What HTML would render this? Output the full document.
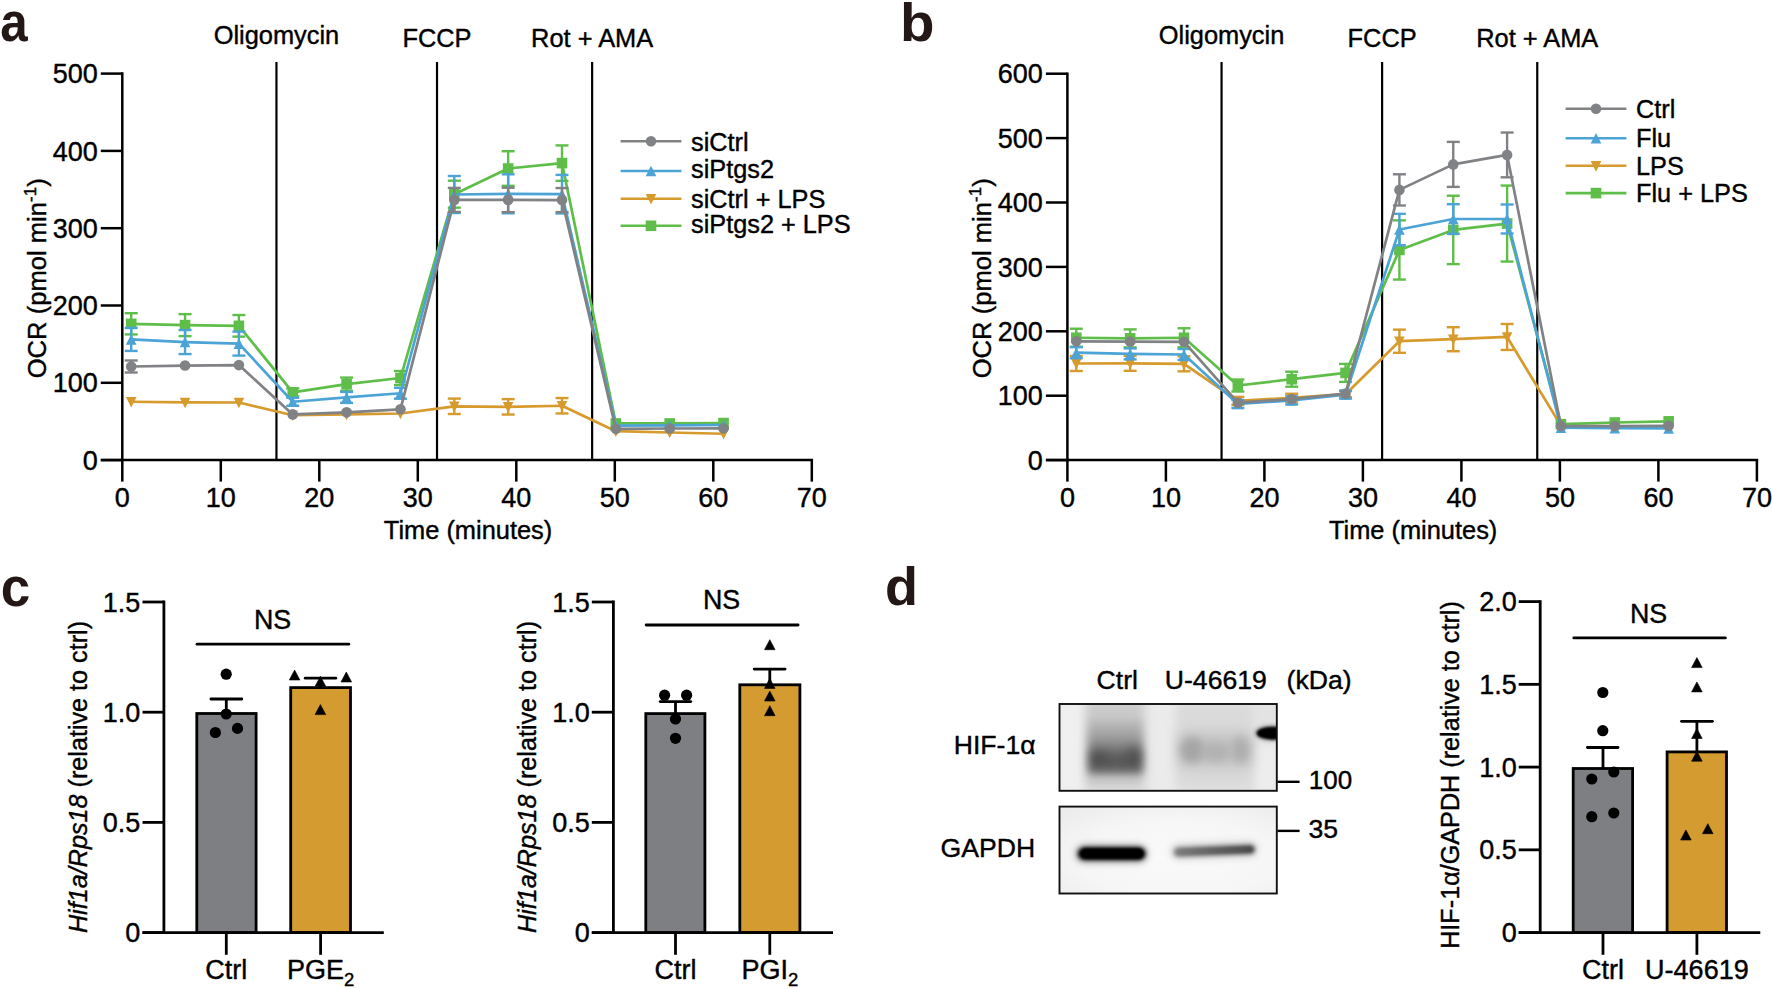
<!DOCTYPE html>
<html lang="en">
<head>
<meta charset="utf-8">
<title>Figure</title>
<style>html,body{margin:0;padding:0;background:#fff;overflow:hidden;}svg{display:block;}text{font-family:"Liberation Sans",Arial,Helvetica,sans-serif;}</style>
</head>
<body>
<svg width="1772" height="989" viewBox="0 0 1772 989" font-family="'Liberation Sans', Arial, Helvetica, sans-serif" fill="#000">
<style>text{stroke:#000;stroke-width:0.4px;stroke-linejoin:round}text.pl{stroke:none}</style>
<defs><filter id="b1" x="-50%" y="-150%" width="200%" height="400%"><feGaussianBlur stdDeviation="1.2"/></filter><filter id="b2" x="-50%" y="-150%" width="200%" height="400%"><feGaussianBlur stdDeviation="2.2"/></filter><filter id="b4" x="-60%" y="-200%" width="220%" height="500%"><feGaussianBlur stdDeviation="4.5"/></filter><filter id="b7" x="-60%" y="-200%" width="220%" height="500%"><feGaussianBlur stdDeviation="7"/></filter><clipPath id="c1"><rect x="1059.5" y="704" width="217.3" height="86.8"/></clipPath><clipPath id="c2"><rect x="1059.5" y="806.6" width="217.3" height="86.9"/></clipPath><linearGradient id="g1" x1="0" y1="0" x2="0" y2="1"><stop offset="0" stop-color="#9a9a9a" stop-opacity="0.25"/><stop offset="0.35" stop-color="#848484" stop-opacity="0.7"/><stop offset="0.7" stop-color="#565656" stop-opacity="1"/><stop offset="1" stop-color="#606060" stop-opacity="0.95"/></linearGradient><radialGradient id="g3" cx="0.55" cy="0.6" r="0.75"><stop offset="0" stop-color="#fafafa"/><stop offset="0.6" stop-color="#f6f6f6"/><stop offset="1" stop-color="#ececec"/></radialGradient><linearGradient id="g2" x1="0" y1="0" x2="1" y2="0"><stop offset="0" stop-color="#7a7a7a"/><stop offset="0.5" stop-color="#606060"/><stop offset="1" stop-color="#4a4a4a"/></linearGradient></defs>
<rect width="1772" height="989" fill="#fff"/>
<text transform="translate(0.14 40.5) scale(0.932 1.04)" class="pl" font-size="53" font-weight="bold" fill="#231815">a</text>
<text transform="translate(900.1 41) scale(1.065 1.0)" class="pl" font-size="53" font-weight="bold" fill="#231815">b</text>
<text transform="translate(0.7 605.7) scale(1.0 1.04)" class="pl" font-size="53" font-weight="bold" fill="#231815">c</text>
<text transform="translate(884.9 604.9) scale(1.02 1.0)" class="pl" font-size="53" font-weight="bold" fill="#231815">d</text>
<g id="panel-a">
<line x1="276.45" y1="62" x2="276.45" y2="460.1" stroke="#000" stroke-width="2.2" />
<text x="276.45" y="44" text-anchor="middle" font-size="25.4" >Oligomycin</text>
<line x1="437.01" y1="62" x2="437.01" y2="460.1" stroke="#000" stroke-width="2.2" />
<text x="437.01" y="47" text-anchor="middle" font-size="25.4" >FCCP</text>
<line x1="592.14" y1="62" x2="592.14" y2="460.1" stroke="#000" stroke-width="2.2" />
<text x="592.14" y="47" text-anchor="middle" font-size="25.4" >Rot + AMA</text>
<line x1="454.3" y1="398.6" x2="454.3" y2="414" stroke="#d69a2d" stroke-width="2.4" />
<line x1="447.8" y1="398.6" x2="460.8" y2="398.6" stroke="#d69a2d" stroke-width="2.4" />
<line x1="447.8" y1="414" x2="460.8" y2="414" stroke="#d69a2d" stroke-width="2.4" />
<line x1="508.15" y1="399.14" x2="508.15" y2="414.54" stroke="#d69a2d" stroke-width="2.4" />
<line x1="501.65" y1="399.14" x2="514.65" y2="399.14" stroke="#d69a2d" stroke-width="2.4" />
<line x1="501.65" y1="414.54" x2="514.65" y2="414.54" stroke="#d69a2d" stroke-width="2.4" />
<line x1="562" y1="398.06" x2="562" y2="413.46" stroke="#d69a2d" stroke-width="2.4" />
<line x1="555.5" y1="398.06" x2="568.5" y2="398.06" stroke="#d69a2d" stroke-width="2.4" />
<line x1="555.5" y1="413.46" x2="568.5" y2="413.46" stroke="#d69a2d" stroke-width="2.4" />
<polyline points="131.2,401.74 185.05,402.43 238.9,402.51 292.75,415.19 346.6,414.42 400.45,413.49 454.3,406.3 508.15,406.84 562,405.76 615.85,431.19 669.7,432.5 723.55,433.74" fill="none" stroke="#d69a2d" stroke-width="2.7" stroke-linejoin="round"/>
<polygon points="125.9,396.97 136.5,396.97 131.2,407.57" fill="#d69a2d"/>
<polygon points="179.75,397.66 190.35,397.66 185.05,408.26" fill="#d69a2d"/>
<polygon points="233.6,397.74 244.2,397.74 238.9,408.34" fill="#d69a2d"/>
<polygon points="287.45,410.42 298.05,410.42 292.75,421.02" fill="#d69a2d"/>
<polygon points="341.3,409.65 351.9,409.65 346.6,420.25" fill="#d69a2d"/>
<polygon points="395.15,408.72 405.75,408.72 400.45,419.32" fill="#d69a2d"/>
<polygon points="449,401.53 459.6,401.53 454.3,412.13" fill="#d69a2d"/>
<polygon points="502.85,402.07 513.45,402.07 508.15,412.67" fill="#d69a2d"/>
<polygon points="556.7,400.99 567.3,400.99 562,411.59" fill="#d69a2d"/>
<polygon points="610.55,426.42 621.15,426.42 615.85,437.02" fill="#d69a2d"/>
<polygon points="664.4,427.73 675,427.73 669.7,438.33" fill="#d69a2d"/>
<polygon points="718.25,428.97 728.85,428.97 723.55,439.57" fill="#d69a2d"/>
<line x1="131.2" y1="313.22" x2="131.2" y2="334.42" stroke="#5fbe49" stroke-width="2.4" />
<line x1="124.7" y1="313.22" x2="137.7" y2="313.22" stroke="#5fbe49" stroke-width="2.4" />
<line x1="124.7" y1="334.42" x2="137.7" y2="334.42" stroke="#5fbe49" stroke-width="2.4" />
<line x1="185.05" y1="314.13" x2="185.05" y2="336.13" stroke="#5fbe49" stroke-width="2.4" />
<line x1="178.55" y1="314.13" x2="191.55" y2="314.13" stroke="#5fbe49" stroke-width="2.4" />
<line x1="178.55" y1="336.13" x2="191.55" y2="336.13" stroke="#5fbe49" stroke-width="2.4" />
<line x1="238.9" y1="315.03" x2="238.9" y2="336.63" stroke="#5fbe49" stroke-width="2.4" />
<line x1="232.4" y1="315.03" x2="245.4" y2="315.03" stroke="#5fbe49" stroke-width="2.4" />
<line x1="232.4" y1="336.63" x2="245.4" y2="336.63" stroke="#5fbe49" stroke-width="2.4" />
<line x1="292.75" y1="388.39" x2="292.75" y2="396.39" stroke="#5fbe49" stroke-width="2.4" />
<line x1="286.25" y1="388.39" x2="299.25" y2="388.39" stroke="#5fbe49" stroke-width="2.4" />
<line x1="286.25" y1="396.39" x2="299.25" y2="396.39" stroke="#5fbe49" stroke-width="2.4" />
<line x1="346.6" y1="377.59" x2="346.6" y2="390.79" stroke="#5fbe49" stroke-width="2.4" />
<line x1="340.1" y1="377.59" x2="353.1" y2="377.59" stroke="#5fbe49" stroke-width="2.4" />
<line x1="340.1" y1="390.79" x2="353.1" y2="390.79" stroke="#5fbe49" stroke-width="2.4" />
<line x1="400.45" y1="371.01" x2="400.45" y2="385.01" stroke="#5fbe49" stroke-width="2.4" />
<line x1="393.95" y1="371.01" x2="406.95" y2="371.01" stroke="#5fbe49" stroke-width="2.4" />
<line x1="393.95" y1="385.01" x2="406.95" y2="385.01" stroke="#5fbe49" stroke-width="2.4" />
<line x1="454.3" y1="180.69" x2="454.3" y2="207.69" stroke="#5fbe49" stroke-width="2.4" />
<line x1="447.8" y1="180.69" x2="460.8" y2="180.69" stroke="#5fbe49" stroke-width="2.4" />
<line x1="447.8" y1="207.69" x2="460.8" y2="207.69" stroke="#5fbe49" stroke-width="2.4" />
<line x1="508.15" y1="151.22" x2="508.15" y2="185.82" stroke="#5fbe49" stroke-width="2.4" />
<line x1="501.65" y1="151.22" x2="514.65" y2="151.22" stroke="#5fbe49" stroke-width="2.4" />
<line x1="501.65" y1="185.82" x2="514.65" y2="185.82" stroke="#5fbe49" stroke-width="2.4" />
<line x1="562" y1="145.41" x2="562" y2="180.81" stroke="#5fbe49" stroke-width="2.4" />
<line x1="555.5" y1="145.41" x2="568.5" y2="145.41" stroke="#5fbe49" stroke-width="2.4" />
<line x1="555.5" y1="180.81" x2="568.5" y2="180.81" stroke="#5fbe49" stroke-width="2.4" />
<polyline points="131.2,323.82 185.05,325.13 238.9,325.83 292.75,392.39 346.6,384.19 400.45,378.01 454.3,194.19 508.15,168.52 562,163.11 615.85,423.46 669.7,423.46 723.55,423.07" fill="none" stroke="#5fbe49" stroke-width="2.7" stroke-linejoin="round"/>
<rect x="125.9" y="318.52" width="10.6" height="10.6" fill="#5fbe49"/>
<rect x="179.75" y="319.83" width="10.6" height="10.6" fill="#5fbe49"/>
<rect x="233.6" y="320.53" width="10.6" height="10.6" fill="#5fbe49"/>
<rect x="287.45" y="387.09" width="10.6" height="10.6" fill="#5fbe49"/>
<rect x="341.3" y="378.89" width="10.6" height="10.6" fill="#5fbe49"/>
<rect x="395.15" y="372.71" width="10.6" height="10.6" fill="#5fbe49"/>
<rect x="449" y="188.89" width="10.6" height="10.6" fill="#5fbe49"/>
<rect x="502.85" y="163.22" width="10.6" height="10.6" fill="#5fbe49"/>
<rect x="556.7" y="157.81" width="10.6" height="10.6" fill="#5fbe49"/>
<rect x="610.55" y="418.16" width="10.6" height="10.6" fill="#5fbe49"/>
<rect x="664.4" y="418.16" width="10.6" height="10.6" fill="#5fbe49"/>
<rect x="718.25" y="417.77" width="10.6" height="10.6" fill="#5fbe49"/>
<line x1="131.2" y1="327.93" x2="131.2" y2="350.93" stroke="#4ba3d6" stroke-width="2.4" />
<line x1="124.7" y1="327.93" x2="137.7" y2="327.93" stroke="#4ba3d6" stroke-width="2.4" />
<line x1="124.7" y1="350.93" x2="137.7" y2="350.93" stroke="#4ba3d6" stroke-width="2.4" />
<line x1="185.05" y1="330.06" x2="185.05" y2="354.06" stroke="#4ba3d6" stroke-width="2.4" />
<line x1="178.55" y1="330.06" x2="191.55" y2="330.06" stroke="#4ba3d6" stroke-width="2.4" />
<line x1="178.55" y1="354.06" x2="191.55" y2="354.06" stroke="#4ba3d6" stroke-width="2.4" />
<line x1="238.9" y1="331.61" x2="238.9" y2="355.61" stroke="#4ba3d6" stroke-width="2.4" />
<line x1="232.4" y1="331.61" x2="245.4" y2="331.61" stroke="#4ba3d6" stroke-width="2.4" />
<line x1="232.4" y1="355.61" x2="245.4" y2="355.61" stroke="#4ba3d6" stroke-width="2.4" />
<line x1="292.75" y1="397.74" x2="292.75" y2="405.74" stroke="#4ba3d6" stroke-width="2.4" />
<line x1="286.25" y1="397.74" x2="299.25" y2="397.74" stroke="#4ba3d6" stroke-width="2.4" />
<line x1="286.25" y1="405.74" x2="299.25" y2="405.74" stroke="#4ba3d6" stroke-width="2.4" />
<line x1="346.6" y1="391.91" x2="346.6" y2="402.91" stroke="#4ba3d6" stroke-width="2.4" />
<line x1="340.1" y1="391.91" x2="353.1" y2="391.91" stroke="#4ba3d6" stroke-width="2.4" />
<line x1="340.1" y1="402.91" x2="353.1" y2="402.91" stroke="#4ba3d6" stroke-width="2.4" />
<line x1="400.45" y1="387.74" x2="400.45" y2="398.74" stroke="#4ba3d6" stroke-width="2.4" />
<line x1="393.95" y1="387.74" x2="406.95" y2="387.74" stroke="#4ba3d6" stroke-width="2.4" />
<line x1="393.95" y1="398.74" x2="406.95" y2="398.74" stroke="#4ba3d6" stroke-width="2.4" />
<line x1="454.3" y1="176" x2="454.3" y2="213" stroke="#4ba3d6" stroke-width="2.4" />
<line x1="447.8" y1="176" x2="460.8" y2="176" stroke="#4ba3d6" stroke-width="2.4" />
<line x1="447.8" y1="213" x2="460.8" y2="213" stroke="#4ba3d6" stroke-width="2.4" />
<line x1="508.15" y1="174.3" x2="508.15" y2="213.3" stroke="#4ba3d6" stroke-width="2.4" />
<line x1="501.65" y1="174.3" x2="514.65" y2="174.3" stroke="#4ba3d6" stroke-width="2.4" />
<line x1="501.65" y1="213.3" x2="514.65" y2="213.3" stroke="#4ba3d6" stroke-width="2.4" />
<line x1="562" y1="174.89" x2="562" y2="213.49" stroke="#4ba3d6" stroke-width="2.4" />
<line x1="555.5" y1="174.89" x2="568.5" y2="174.89" stroke="#4ba3d6" stroke-width="2.4" />
<line x1="555.5" y1="213.49" x2="568.5" y2="213.49" stroke="#4ba3d6" stroke-width="2.4" />
<polyline points="131.2,339.43 185.05,342.06 238.9,343.61 292.75,401.74 346.6,397.41 400.45,393.24 454.3,194.5 508.15,193.8 562,194.19 615.85,425.62 669.7,425.31 723.55,425.01" fill="none" stroke="#4ba3d6" stroke-width="2.7" stroke-linejoin="round"/>
<polygon points="125.9,344.73 136.5,344.73 131.2,334.13" fill="#4ba3d6"/>
<polygon points="179.75,347.36 190.35,347.36 185.05,336.76" fill="#4ba3d6"/>
<polygon points="233.6,348.91 244.2,348.91 238.9,338.31" fill="#4ba3d6"/>
<polygon points="287.45,407.04 298.05,407.04 292.75,396.44" fill="#4ba3d6"/>
<polygon points="341.3,402.71 351.9,402.71 346.6,392.11" fill="#4ba3d6"/>
<polygon points="395.15,398.54 405.75,398.54 400.45,387.94" fill="#4ba3d6"/>
<polygon points="449,199.8 459.6,199.8 454.3,189.2" fill="#4ba3d6"/>
<polygon points="502.85,199.1 513.45,199.1 508.15,188.5" fill="#4ba3d6"/>
<polygon points="556.7,199.49 567.3,199.49 562,188.89" fill="#4ba3d6"/>
<polygon points="610.55,430.92 621.15,430.92 615.85,420.32" fill="#4ba3d6"/>
<polygon points="664.4,430.62 675,430.62 669.7,420.01" fill="#4ba3d6"/>
<polygon points="718.25,430.31 728.85,430.31 723.55,419.71" fill="#4ba3d6"/>
<line x1="131.2" y1="360.49" x2="131.2" y2="372.49" stroke="#808285" stroke-width="2.4" />
<line x1="124.7" y1="360.49" x2="137.7" y2="360.49" stroke="#808285" stroke-width="2.4" />
<line x1="124.7" y1="372.49" x2="137.7" y2="372.49" stroke="#808285" stroke-width="2.4" />
<line x1="454.3" y1="187.91" x2="454.3" y2="211.91" stroke="#808285" stroke-width="2.4" />
<line x1="447.8" y1="187.91" x2="460.8" y2="187.91" stroke="#808285" stroke-width="2.4" />
<line x1="447.8" y1="211.91" x2="460.8" y2="211.91" stroke="#808285" stroke-width="2.4" />
<line x1="508.15" y1="187.71" x2="508.15" y2="212.11" stroke="#808285" stroke-width="2.4" />
<line x1="501.65" y1="187.71" x2="514.65" y2="187.71" stroke="#808285" stroke-width="2.4" />
<line x1="501.65" y1="212.11" x2="514.65" y2="212.11" stroke="#808285" stroke-width="2.4" />
<line x1="562" y1="188.06" x2="562" y2="212.06" stroke="#808285" stroke-width="2.4" />
<line x1="555.5" y1="188.06" x2="568.5" y2="188.06" stroke="#808285" stroke-width="2.4" />
<line x1="555.5" y1="212.06" x2="568.5" y2="212.06" stroke="#808285" stroke-width="2.4" />
<polyline points="131.2,366.49 185.05,365.56 238.9,365.1 292.75,414.42 346.6,412.33 400.45,409.31 454.3,199.91 508.15,199.91 562,200.06 615.85,428.87 669.7,428.48 723.55,428.33" fill="none" stroke="#808285" stroke-width="2.7" stroke-linejoin="round"/>
<circle cx="131.2" cy="366.49" r="5.3" fill="#808285"/>
<circle cx="185.05" cy="365.56" r="5.3" fill="#808285"/>
<circle cx="238.9" cy="365.1" r="5.3" fill="#808285"/>
<circle cx="292.75" cy="414.42" r="5.3" fill="#808285"/>
<circle cx="346.6" cy="412.33" r="5.3" fill="#808285"/>
<circle cx="400.45" cy="409.31" r="5.3" fill="#808285"/>
<circle cx="454.3" cy="199.91" r="5.3" fill="#808285"/>
<circle cx="508.15" cy="199.91" r="5.3" fill="#808285"/>
<circle cx="562" cy="200.06" r="5.3" fill="#808285"/>
<circle cx="615.85" cy="428.87" r="5.3" fill="#808285"/>
<circle cx="669.7" cy="428.48" r="5.3" fill="#808285"/>
<circle cx="723.55" cy="428.33" r="5.3" fill="#808285"/>
<line x1="122.3" y1="72.35" x2="122.3" y2="461.35" stroke="#000" stroke-width="2.5" />
<line x1="100.8" y1="460.1" x2="813.05" y2="460.1" stroke="#000" stroke-width="2.5" />
<line x1="100.8" y1="460.1" x2="122.3" y2="460.1" stroke="#000" stroke-width="2.5" />
<text x="97.8" y="469.7" text-anchor="end" font-size="27" >0</text>
<line x1="100.8" y1="382.8" x2="122.3" y2="382.8" stroke="#000" stroke-width="2.5" />
<text x="97.8" y="392.4" text-anchor="end" font-size="27" >100</text>
<line x1="100.8" y1="305.5" x2="122.3" y2="305.5" stroke="#000" stroke-width="2.5" />
<text x="97.8" y="315.1" text-anchor="end" font-size="27" >200</text>
<line x1="100.8" y1="228.2" x2="122.3" y2="228.2" stroke="#000" stroke-width="2.5" />
<text x="97.8" y="237.8" text-anchor="end" font-size="27" >300</text>
<line x1="100.8" y1="150.9" x2="122.3" y2="150.9" stroke="#000" stroke-width="2.5" />
<text x="97.8" y="160.5" text-anchor="end" font-size="27" >400</text>
<line x1="100.8" y1="73.6" x2="122.3" y2="73.6" stroke="#000" stroke-width="2.5" />
<text x="97.8" y="83.2" text-anchor="end" font-size="27" >500</text>
<line x1="122.3" y1="460.1" x2="122.3" y2="481.6" stroke="#000" stroke-width="2.5" />
<text x="122.3" y="506.6" text-anchor="middle" font-size="27" >0</text>
<line x1="220.8" y1="460.1" x2="220.8" y2="481.6" stroke="#000" stroke-width="2.5" />
<text x="220.8" y="506.6" text-anchor="middle" font-size="27" >10</text>
<line x1="319.3" y1="460.1" x2="319.3" y2="481.6" stroke="#000" stroke-width="2.5" />
<text x="319.3" y="506.6" text-anchor="middle" font-size="27" >20</text>
<line x1="417.8" y1="460.1" x2="417.8" y2="481.6" stroke="#000" stroke-width="2.5" />
<text x="417.8" y="506.6" text-anchor="middle" font-size="27" >30</text>
<line x1="516.3" y1="460.1" x2="516.3" y2="481.6" stroke="#000" stroke-width="2.5" />
<text x="516.3" y="506.6" text-anchor="middle" font-size="27" >40</text>
<line x1="614.8" y1="460.1" x2="614.8" y2="481.6" stroke="#000" stroke-width="2.5" />
<text x="614.8" y="506.6" text-anchor="middle" font-size="27" >50</text>
<line x1="713.3" y1="460.1" x2="713.3" y2="481.6" stroke="#000" stroke-width="2.5" />
<text x="713.3" y="506.6" text-anchor="middle" font-size="27" >60</text>
<line x1="811.8" y1="460.1" x2="811.8" y2="481.6" stroke="#000" stroke-width="2.5" />
<text x="811.8" y="506.6" text-anchor="middle" font-size="27" >70</text>
<text x="468.05" y="539.3" text-anchor="middle" font-size="25.4" >Time (minutes)</text>
<text transform="translate(46.3 278.3) rotate(-90)" text-anchor="middle" font-size="25.6" >OCR (pmol min<tspan font-size="17" dy="-10">-1</tspan><tspan dy="10">)</tspan></text>
<line x1="620.6" y1="141.2" x2="681.4" y2="141.2" stroke="#808285" stroke-width="2.6" />
<circle cx="651" cy="141.2" r="5.3" fill="#808285"/>
<text x="691" y="150.8" text-anchor="start" font-size="25.3" >siCtrl</text>
<line x1="620.6" y1="171" x2="681.4" y2="171" stroke="#4ba3d6" stroke-width="2.6" />
<polygon points="645.7,176.3 656.3,176.3 651,165.7" fill="#4ba3d6"/>
<text x="691" y="178" text-anchor="start" font-size="25.3" >siPtgs2</text>
<line x1="620.6" y1="198.7" x2="681.4" y2="198.7" stroke="#d69a2d" stroke-width="2.6" />
<polygon points="645.7,193.93 656.3,193.93 651,204.53" fill="#d69a2d"/>
<text x="691" y="208" text-anchor="start" font-size="25.3" >siCtrl + LPS</text>
<line x1="620.6" y1="225.8" x2="681.4" y2="225.8" stroke="#5fbe49" stroke-width="2.6" />
<rect x="645.7" y="220.5" width="10.6" height="10.6" fill="#5fbe49"/>
<text x="691" y="232.7" text-anchor="start" font-size="25.3" >siPtgs2 + LPS</text>
</g>
<g id="panel-b">
<line x1="1221.55" y1="62" x2="1221.55" y2="460.1" stroke="#000" stroke-width="2.2" />
<text x="1221.55" y="44" text-anchor="middle" font-size="25.4" >Oligomycin</text>
<line x1="1382.11" y1="62" x2="1382.11" y2="460.1" stroke="#000" stroke-width="2.2" />
<text x="1382.11" y="47" text-anchor="middle" font-size="25.4" >FCCP</text>
<line x1="1537.25" y1="62" x2="1537.25" y2="460.1" stroke="#000" stroke-width="2.2" />
<text x="1537.25" y="47" text-anchor="middle" font-size="25.4" >Rot + AMA</text>
<line x1="1076.3" y1="356" x2="1076.3" y2="371" stroke="#d69a2d" stroke-width="2.4" />
<line x1="1069.8" y1="356" x2="1082.8" y2="356" stroke="#d69a2d" stroke-width="2.4" />
<line x1="1069.8" y1="371" x2="1082.8" y2="371" stroke="#d69a2d" stroke-width="2.4" />
<line x1="1130.15" y1="355.81" x2="1130.15" y2="370.81" stroke="#d69a2d" stroke-width="2.4" />
<line x1="1123.65" y1="355.81" x2="1136.65" y2="355.81" stroke="#d69a2d" stroke-width="2.4" />
<line x1="1123.65" y1="370.81" x2="1136.65" y2="370.81" stroke="#d69a2d" stroke-width="2.4" />
<line x1="1184" y1="356.32" x2="1184" y2="371.32" stroke="#d69a2d" stroke-width="2.4" />
<line x1="1177.5" y1="356.32" x2="1190.5" y2="356.32" stroke="#d69a2d" stroke-width="2.4" />
<line x1="1177.5" y1="371.32" x2="1190.5" y2="371.32" stroke="#d69a2d" stroke-width="2.4" />
<line x1="1237.85" y1="396.85" x2="1237.85" y2="404.85" stroke="#d69a2d" stroke-width="2.4" />
<line x1="1231.35" y1="396.85" x2="1244.35" y2="396.85" stroke="#d69a2d" stroke-width="2.4" />
<line x1="1231.35" y1="404.85" x2="1244.35" y2="404.85" stroke="#d69a2d" stroke-width="2.4" />
<line x1="1291.7" y1="393.76" x2="1291.7" y2="401.76" stroke="#d69a2d" stroke-width="2.4" />
<line x1="1285.2" y1="393.76" x2="1298.2" y2="393.76" stroke="#d69a2d" stroke-width="2.4" />
<line x1="1285.2" y1="401.76" x2="1298.2" y2="401.76" stroke="#d69a2d" stroke-width="2.4" />
<line x1="1345.55" y1="391.22" x2="1345.55" y2="397.22" stroke="#d69a2d" stroke-width="2.4" />
<line x1="1339.05" y1="391.22" x2="1352.05" y2="391.22" stroke="#d69a2d" stroke-width="2.4" />
<line x1="1339.05" y1="397.22" x2="1352.05" y2="397.22" stroke="#d69a2d" stroke-width="2.4" />
<line x1="1399.4" y1="329.62" x2="1399.4" y2="352.82" stroke="#d69a2d" stroke-width="2.4" />
<line x1="1392.9" y1="329.62" x2="1405.9" y2="329.62" stroke="#d69a2d" stroke-width="2.4" />
<line x1="1392.9" y1="352.82" x2="1405.9" y2="352.82" stroke="#d69a2d" stroke-width="2.4" />
<line x1="1453.25" y1="327.22" x2="1453.25" y2="351.22" stroke="#d69a2d" stroke-width="2.4" />
<line x1="1446.75" y1="327.22" x2="1459.75" y2="327.22" stroke="#d69a2d" stroke-width="2.4" />
<line x1="1446.75" y1="351.22" x2="1459.75" y2="351.22" stroke="#d69a2d" stroke-width="2.4" />
<line x1="1507.1" y1="323.97" x2="1507.1" y2="349.97" stroke="#d69a2d" stroke-width="2.4" />
<line x1="1500.6" y1="323.97" x2="1513.6" y2="323.97" stroke="#d69a2d" stroke-width="2.4" />
<line x1="1500.6" y1="349.97" x2="1513.6" y2="349.97" stroke="#d69a2d" stroke-width="2.4" />
<polyline points="1076.3,363.5 1130.15,363.31 1184,363.82 1237.85,400.85 1291.7,397.76 1345.55,394.22 1399.4,341.22 1453.25,339.22 1507.1,336.97 1560.95,425.58 1614.8,426.29 1668.65,426.29" fill="none" stroke="#d69a2d" stroke-width="2.7" stroke-linejoin="round"/>
<polygon points="1071,358.73 1081.6,358.73 1076.3,369.33" fill="#d69a2d"/>
<polygon points="1124.85,358.54 1135.45,358.54 1130.15,369.14" fill="#d69a2d"/>
<polygon points="1178.7,359.05 1189.3,359.05 1184,369.65" fill="#d69a2d"/>
<polygon points="1232.55,396.08 1243.15,396.08 1237.85,406.68" fill="#d69a2d"/>
<polygon points="1286.4,392.99 1297,392.99 1291.7,403.59" fill="#d69a2d"/>
<polygon points="1340.25,389.45 1350.85,389.45 1345.55,400.05" fill="#d69a2d"/>
<polygon points="1394.1,336.45 1404.7,336.45 1399.4,347.05" fill="#d69a2d"/>
<polygon points="1447.95,334.45 1458.55,334.45 1453.25,345.05" fill="#d69a2d"/>
<polygon points="1501.8,332.2 1512.4,332.2 1507.1,342.8" fill="#d69a2d"/>
<polygon points="1555.65,420.81 1566.25,420.81 1560.95,431.41" fill="#d69a2d"/>
<polygon points="1609.5,421.52 1620.1,421.52 1614.8,432.12" fill="#d69a2d"/>
<polygon points="1663.35,421.52 1673.95,421.52 1668.65,432.12" fill="#d69a2d"/>
<line x1="1076.3" y1="328.74" x2="1076.3" y2="346.74" stroke="#5fbe49" stroke-width="2.4" />
<line x1="1069.8" y1="328.74" x2="1082.8" y2="328.74" stroke="#5fbe49" stroke-width="2.4" />
<line x1="1069.8" y1="346.74" x2="1082.8" y2="346.74" stroke="#5fbe49" stroke-width="2.4" />
<line x1="1130.15" y1="329.38" x2="1130.15" y2="347.38" stroke="#5fbe49" stroke-width="2.4" />
<line x1="1123.65" y1="329.38" x2="1136.65" y2="329.38" stroke="#5fbe49" stroke-width="2.4" />
<line x1="1123.65" y1="347.38" x2="1136.65" y2="347.38" stroke="#5fbe49" stroke-width="2.4" />
<line x1="1184" y1="328.24" x2="1184" y2="347.24" stroke="#5fbe49" stroke-width="2.4" />
<line x1="1177.5" y1="328.24" x2="1190.5" y2="328.24" stroke="#5fbe49" stroke-width="2.4" />
<line x1="1177.5" y1="347.24" x2="1190.5" y2="347.24" stroke="#5fbe49" stroke-width="2.4" />
<line x1="1237.85" y1="379.52" x2="1237.85" y2="391.52" stroke="#5fbe49" stroke-width="2.4" />
<line x1="1231.35" y1="379.52" x2="1244.35" y2="379.52" stroke="#5fbe49" stroke-width="2.4" />
<line x1="1231.35" y1="391.52" x2="1244.35" y2="391.52" stroke="#5fbe49" stroke-width="2.4" />
<line x1="1291.7" y1="371.71" x2="1291.7" y2="386.71" stroke="#5fbe49" stroke-width="2.4" />
<line x1="1285.2" y1="371.71" x2="1298.2" y2="371.71" stroke="#5fbe49" stroke-width="2.4" />
<line x1="1285.2" y1="386.71" x2="1298.2" y2="386.71" stroke="#5fbe49" stroke-width="2.4" />
<line x1="1345.55" y1="363.9" x2="1345.55" y2="381.9" stroke="#5fbe49" stroke-width="2.4" />
<line x1="1339.05" y1="363.9" x2="1352.05" y2="363.9" stroke="#5fbe49" stroke-width="2.4" />
<line x1="1339.05" y1="381.9" x2="1352.05" y2="381.9" stroke="#5fbe49" stroke-width="2.4" />
<line x1="1399.4" y1="220.36" x2="1399.4" y2="279.56" stroke="#5fbe49" stroke-width="2.4" />
<line x1="1392.9" y1="220.36" x2="1405.9" y2="220.36" stroke="#5fbe49" stroke-width="2.4" />
<line x1="1392.9" y1="279.56" x2="1405.9" y2="279.56" stroke="#5fbe49" stroke-width="2.4" />
<line x1="1453.25" y1="195.73" x2="1453.25" y2="264.13" stroke="#5fbe49" stroke-width="2.4" />
<line x1="1446.75" y1="195.73" x2="1459.75" y2="195.73" stroke="#5fbe49" stroke-width="2.4" />
<line x1="1446.75" y1="264.13" x2="1459.75" y2="264.13" stroke="#5fbe49" stroke-width="2.4" />
<line x1="1507.1" y1="185.56" x2="1507.1" y2="261.56" stroke="#5fbe49" stroke-width="2.4" />
<line x1="1500.6" y1="185.56" x2="1513.6" y2="185.56" stroke="#5fbe49" stroke-width="2.4" />
<line x1="1500.6" y1="261.56" x2="1513.6" y2="261.56" stroke="#5fbe49" stroke-width="2.4" />
<polyline points="1076.3,337.74 1130.15,338.38 1184,337.74 1237.85,385.52 1291.7,379.21 1345.55,372.9 1399.4,249.96 1453.25,229.93 1507.1,223.56 1560.95,424.16 1614.8,422.49 1668.65,421.33" fill="none" stroke="#5fbe49" stroke-width="2.7" stroke-linejoin="round"/>
<rect x="1071" y="332.44" width="10.6" height="10.6" fill="#5fbe49"/>
<rect x="1124.85" y="333.08" width="10.6" height="10.6" fill="#5fbe49"/>
<rect x="1178.7" y="332.44" width="10.6" height="10.6" fill="#5fbe49"/>
<rect x="1232.55" y="380.22" width="10.6" height="10.6" fill="#5fbe49"/>
<rect x="1286.4" y="373.91" width="10.6" height="10.6" fill="#5fbe49"/>
<rect x="1340.25" y="367.6" width="10.6" height="10.6" fill="#5fbe49"/>
<rect x="1394.1" y="244.66" width="10.6" height="10.6" fill="#5fbe49"/>
<rect x="1447.95" y="224.63" width="10.6" height="10.6" fill="#5fbe49"/>
<rect x="1501.8" y="218.26" width="10.6" height="10.6" fill="#5fbe49"/>
<rect x="1555.65" y="418.86" width="10.6" height="10.6" fill="#5fbe49"/>
<rect x="1609.5" y="417.19" width="10.6" height="10.6" fill="#5fbe49"/>
<rect x="1663.35" y="416.03" width="10.6" height="10.6" fill="#5fbe49"/>
<line x1="1076.3" y1="347.18" x2="1076.3" y2="358.18" stroke="#4ba3d6" stroke-width="2.4" />
<line x1="1069.8" y1="347.18" x2="1082.8" y2="347.18" stroke="#4ba3d6" stroke-width="2.4" />
<line x1="1069.8" y1="358.18" x2="1082.8" y2="358.18" stroke="#4ba3d6" stroke-width="2.4" />
<line x1="1130.15" y1="348.4" x2="1130.15" y2="359.4" stroke="#4ba3d6" stroke-width="2.4" />
<line x1="1123.65" y1="348.4" x2="1136.65" y2="348.4" stroke="#4ba3d6" stroke-width="2.4" />
<line x1="1123.65" y1="359.4" x2="1136.65" y2="359.4" stroke="#4ba3d6" stroke-width="2.4" />
<line x1="1184" y1="348.98" x2="1184" y2="359.98" stroke="#4ba3d6" stroke-width="2.4" />
<line x1="1177.5" y1="348.98" x2="1190.5" y2="348.98" stroke="#4ba3d6" stroke-width="2.4" />
<line x1="1177.5" y1="359.98" x2="1190.5" y2="359.98" stroke="#4ba3d6" stroke-width="2.4" />
<line x1="1237.85" y1="399.94" x2="1237.85" y2="407.94" stroke="#4ba3d6" stroke-width="2.4" />
<line x1="1231.35" y1="399.94" x2="1244.35" y2="399.94" stroke="#4ba3d6" stroke-width="2.4" />
<line x1="1231.35" y1="407.94" x2="1244.35" y2="407.94" stroke="#4ba3d6" stroke-width="2.4" />
<line x1="1291.7" y1="396.34" x2="1291.7" y2="404.34" stroke="#4ba3d6" stroke-width="2.4" />
<line x1="1285.2" y1="396.34" x2="1298.2" y2="396.34" stroke="#4ba3d6" stroke-width="2.4" />
<line x1="1285.2" y1="404.34" x2="1298.2" y2="404.34" stroke="#4ba3d6" stroke-width="2.4" />
<line x1="1345.55" y1="390.54" x2="1345.55" y2="398.54" stroke="#4ba3d6" stroke-width="2.4" />
<line x1="1339.05" y1="390.54" x2="1352.05" y2="390.54" stroke="#4ba3d6" stroke-width="2.4" />
<line x1="1339.05" y1="398.54" x2="1352.05" y2="398.54" stroke="#4ba3d6" stroke-width="2.4" />
<line x1="1399.4" y1="213.85" x2="1399.4" y2="245.25" stroke="#4ba3d6" stroke-width="2.4" />
<line x1="1392.9" y1="213.85" x2="1405.9" y2="213.85" stroke="#4ba3d6" stroke-width="2.4" />
<line x1="1392.9" y1="245.25" x2="1405.9" y2="245.25" stroke="#4ba3d6" stroke-width="2.4" />
<line x1="1453.25" y1="204.19" x2="1453.25" y2="233.79" stroke="#4ba3d6" stroke-width="2.4" />
<line x1="1446.75" y1="204.19" x2="1459.75" y2="204.19" stroke="#4ba3d6" stroke-width="2.4" />
<line x1="1446.75" y1="233.79" x2="1459.75" y2="233.79" stroke="#4ba3d6" stroke-width="2.4" />
<line x1="1507.1" y1="204.49" x2="1507.1" y2="233.49" stroke="#4ba3d6" stroke-width="2.4" />
<line x1="1500.6" y1="204.49" x2="1513.6" y2="204.49" stroke="#4ba3d6" stroke-width="2.4" />
<line x1="1500.6" y1="233.49" x2="1513.6" y2="233.49" stroke="#4ba3d6" stroke-width="2.4" />
<polyline points="1076.3,352.68 1130.15,353.9 1184,354.48 1237.85,403.94 1291.7,400.34 1345.55,394.54 1399.4,229.55 1453.25,218.99 1507.1,218.99 1560.95,427.58 1614.8,428.22 1668.65,428.42" fill="none" stroke="#4ba3d6" stroke-width="2.7" stroke-linejoin="round"/>
<polygon points="1071,357.98 1081.6,357.98 1076.3,347.38" fill="#4ba3d6"/>
<polygon points="1124.85,359.2 1135.45,359.2 1130.15,348.6" fill="#4ba3d6"/>
<polygon points="1178.7,359.78 1189.3,359.78 1184,349.18" fill="#4ba3d6"/>
<polygon points="1232.55,409.24 1243.15,409.24 1237.85,398.64" fill="#4ba3d6"/>
<polygon points="1286.4,405.64 1297,405.64 1291.7,395.04" fill="#4ba3d6"/>
<polygon points="1340.25,399.84 1350.85,399.84 1345.55,389.24" fill="#4ba3d6"/>
<polygon points="1394.1,234.85 1404.7,234.85 1399.4,224.25" fill="#4ba3d6"/>
<polygon points="1447.95,224.29 1458.55,224.29 1453.25,213.69" fill="#4ba3d6"/>
<polygon points="1501.8,224.29 1512.4,224.29 1507.1,213.69" fill="#4ba3d6"/>
<polygon points="1555.65,432.88 1566.25,432.88 1560.95,422.28" fill="#4ba3d6"/>
<polygon points="1609.5,433.52 1620.1,433.52 1614.8,422.92" fill="#4ba3d6"/>
<polygon points="1663.35,433.72 1673.95,433.72 1668.65,423.12" fill="#4ba3d6"/>
<line x1="1399.4" y1="174.28" x2="1399.4" y2="205.48" stroke="#808285" stroke-width="2.4" />
<line x1="1392.9" y1="174.28" x2="1405.9" y2="174.28" stroke="#808285" stroke-width="2.4" />
<line x1="1392.9" y1="205.48" x2="1405.9" y2="205.48" stroke="#808285" stroke-width="2.4" />
<line x1="1453.25" y1="141.88" x2="1453.25" y2="186.88" stroke="#808285" stroke-width="2.4" />
<line x1="1446.75" y1="141.88" x2="1459.75" y2="141.88" stroke="#808285" stroke-width="2.4" />
<line x1="1446.75" y1="186.88" x2="1459.75" y2="186.88" stroke="#808285" stroke-width="2.4" />
<line x1="1507.1" y1="132.51" x2="1507.1" y2="177.31" stroke="#808285" stroke-width="2.4" />
<line x1="1500.6" y1="132.51" x2="1513.6" y2="132.51" stroke="#808285" stroke-width="2.4" />
<line x1="1500.6" y1="177.31" x2="1513.6" y2="177.31" stroke="#808285" stroke-width="2.4" />
<polyline points="1076.3,341.28 1130.15,341.6 1184,341.8 1237.85,402.72 1291.7,399.05 1345.55,393.64 1399.4,189.88 1453.25,164.38 1507.1,154.91 1560.95,426.1 1614.8,426.1 1668.65,425.84" fill="none" stroke="#808285" stroke-width="2.7" stroke-linejoin="round"/>
<circle cx="1076.3" cy="341.28" r="5.3" fill="#808285"/>
<circle cx="1130.15" cy="341.6" r="5.3" fill="#808285"/>
<circle cx="1184" cy="341.8" r="5.3" fill="#808285"/>
<circle cx="1237.85" cy="402.72" r="5.3" fill="#808285"/>
<circle cx="1291.7" cy="399.05" r="5.3" fill="#808285"/>
<circle cx="1345.55" cy="393.64" r="5.3" fill="#808285"/>
<circle cx="1399.4" cy="189.88" r="5.3" fill="#808285"/>
<circle cx="1453.25" cy="164.38" r="5.3" fill="#808285"/>
<circle cx="1507.1" cy="154.91" r="5.3" fill="#808285"/>
<circle cx="1560.95" cy="426.1" r="5.3" fill="#808285"/>
<circle cx="1614.8" cy="426.1" r="5.3" fill="#808285"/>
<circle cx="1668.65" cy="425.84" r="5.3" fill="#808285"/>
<line x1="1067.4" y1="72.45" x2="1067.4" y2="461.35" stroke="#000" stroke-width="2.5" />
<line x1="1045.9" y1="460.1" x2="1758.15" y2="460.1" stroke="#000" stroke-width="2.5" />
<line x1="1045.9" y1="460.1" x2="1067.4" y2="460.1" stroke="#000" stroke-width="2.5" />
<text x="1042.9" y="469.7" text-anchor="end" font-size="27" >0</text>
<line x1="1045.9" y1="395.7" x2="1067.4" y2="395.7" stroke="#000" stroke-width="2.5" />
<text x="1042.9" y="405.3" text-anchor="end" font-size="27" >100</text>
<line x1="1045.9" y1="331.3" x2="1067.4" y2="331.3" stroke="#000" stroke-width="2.5" />
<text x="1042.9" y="340.9" text-anchor="end" font-size="27" >200</text>
<line x1="1045.9" y1="266.9" x2="1067.4" y2="266.9" stroke="#000" stroke-width="2.5" />
<text x="1042.9" y="276.5" text-anchor="end" font-size="27" >300</text>
<line x1="1045.9" y1="202.5" x2="1067.4" y2="202.5" stroke="#000" stroke-width="2.5" />
<text x="1042.9" y="212.1" text-anchor="end" font-size="27" >400</text>
<line x1="1045.9" y1="138.1" x2="1067.4" y2="138.1" stroke="#000" stroke-width="2.5" />
<text x="1042.9" y="147.7" text-anchor="end" font-size="27" >500</text>
<line x1="1045.9" y1="73.7" x2="1067.4" y2="73.7" stroke="#000" stroke-width="2.5" />
<text x="1042.9" y="83.3" text-anchor="end" font-size="27" >600</text>
<line x1="1067.4" y1="460.1" x2="1067.4" y2="481.6" stroke="#000" stroke-width="2.5" />
<text x="1067.4" y="506.6" text-anchor="middle" font-size="27" >0</text>
<line x1="1165.9" y1="460.1" x2="1165.9" y2="481.6" stroke="#000" stroke-width="2.5" />
<text x="1165.9" y="506.6" text-anchor="middle" font-size="27" >10</text>
<line x1="1264.4" y1="460.1" x2="1264.4" y2="481.6" stroke="#000" stroke-width="2.5" />
<text x="1264.4" y="506.6" text-anchor="middle" font-size="27" >20</text>
<line x1="1362.9" y1="460.1" x2="1362.9" y2="481.6" stroke="#000" stroke-width="2.5" />
<text x="1362.9" y="506.6" text-anchor="middle" font-size="27" >30</text>
<line x1="1461.4" y1="460.1" x2="1461.4" y2="481.6" stroke="#000" stroke-width="2.5" />
<text x="1461.4" y="506.6" text-anchor="middle" font-size="27" >40</text>
<line x1="1559.9" y1="460.1" x2="1559.9" y2="481.6" stroke="#000" stroke-width="2.5" />
<text x="1559.9" y="506.6" text-anchor="middle" font-size="27" >50</text>
<line x1="1658.4" y1="460.1" x2="1658.4" y2="481.6" stroke="#000" stroke-width="2.5" />
<text x="1658.4" y="506.6" text-anchor="middle" font-size="27" >60</text>
<line x1="1756.9" y1="460.1" x2="1756.9" y2="481.6" stroke="#000" stroke-width="2.5" />
<text x="1756.9" y="506.6" text-anchor="middle" font-size="27" >70</text>
<text x="1413.15" y="539.3" text-anchor="middle" font-size="25.4" >Time (minutes)</text>
<text transform="translate(991.4 278.3) rotate(-90)" text-anchor="middle" font-size="25.6" >OCR (pmol min<tspan font-size="17" dy="-10">-1</tspan><tspan dy="10">)</tspan></text>
<line x1="1565.6" y1="108.7" x2="1626.4" y2="108.7" stroke="#808285" stroke-width="2.6" />
<circle cx="1596" cy="108.7" r="5.3" fill="#808285"/>
<text x="1636" y="117.6" text-anchor="start" font-size="25.3" >Ctrl</text>
<line x1="1565.6" y1="138.2" x2="1626.4" y2="138.2" stroke="#4ba3d6" stroke-width="2.6" />
<polygon points="1590.7,143.5 1601.3,143.5 1596,132.9" fill="#4ba3d6"/>
<text x="1636" y="146.5" text-anchor="start" font-size="25.3" >Flu</text>
<line x1="1565.6" y1="165.8" x2="1626.4" y2="165.8" stroke="#d69a2d" stroke-width="2.6" />
<polygon points="1590.7,161.03 1601.3,161.03 1596,171.63" fill="#d69a2d"/>
<text x="1636" y="175" text-anchor="start" font-size="25.3" >LPS</text>
<line x1="1565.6" y1="193.1" x2="1626.4" y2="193.1" stroke="#5fbe49" stroke-width="2.6" />
<rect x="1590.7" y="187.8" width="10.6" height="10.6" fill="#5fbe49"/>
<text x="1636" y="202" text-anchor="start" font-size="25.3" >Flu + LPS</text>
</g>
<g id="panel-c1">
<line x1="226.3" y1="699" x2="226.3" y2="714.1" stroke="#000" stroke-width="2.8" />
<line x1="210.9" y1="699" x2="241.8" y2="699" stroke="#000" stroke-width="2.8" stroke-linecap="round"/>
<rect x="196.8" y="713.5" width="59.3" height="219.1" fill="#7d7f83" stroke="#000" stroke-width="2.8"/>
<line x1="320.6" y1="678.2" x2="320.6" y2="688.2" stroke="#000" stroke-width="2.8" />
<line x1="305.2" y1="678.2" x2="335.8" y2="678.2" stroke="#000" stroke-width="2.8" stroke-linecap="round"/>
<rect x="290.7" y="687.6" width="59.8" height="245" fill="#d39b30" stroke="#000" stroke-width="2.8"/>
<line x1="163.9" y1="600.6" x2="163.9" y2="934" stroke="#000" stroke-width="2.8" />
<line x1="142.5" y1="932.6" x2="383.8" y2="932.6" stroke="#000" stroke-width="2.8" />
<line x1="142.5" y1="932.6" x2="163.9" y2="932.6" stroke="#000" stroke-width="2.8" />
<text x="140.4" y="942.2" text-anchor="end" font-size="27" >0</text>
<line x1="142.5" y1="822.4" x2="163.9" y2="822.4" stroke="#000" stroke-width="2.8" />
<text x="140.4" y="832" text-anchor="end" font-size="27" >0.5</text>
<line x1="142.5" y1="712.2" x2="163.9" y2="712.2" stroke="#000" stroke-width="2.8" />
<text x="140.4" y="721.8" text-anchor="end" font-size="27" >1.0</text>
<line x1="142.5" y1="602" x2="163.9" y2="602" stroke="#000" stroke-width="2.8" />
<text x="140.4" y="611.6" text-anchor="end" font-size="27" >1.5</text>
<line x1="226.3" y1="932.6" x2="226.3" y2="954.8" stroke="#000" stroke-width="2.8" />
<text x="226.3" y="978.5" text-anchor="middle" font-size="27" >Ctrl</text>
<line x1="320.6" y1="932.6" x2="320.6" y2="954.8" stroke="#000" stroke-width="2.8" />
<text x="320.6" y="978.5" text-anchor="middle" font-size="27" >PGE<tspan font-size="18.5" dy="7.7">2</tspan></text>
<line x1="197" y1="644.2" x2="348.8" y2="644.2" stroke="#000" stroke-width="2.8" stroke-linecap="round"/>
<text x="272.5" y="629" text-anchor="middle" font-size="26.8" >NS</text>
<text transform="translate(86.7 777) rotate(-90)" text-anchor="middle" font-size="25.2" ><tspan font-style="italic">Hif1a/Rps18</tspan> (relative to ctrl)</text>
<circle cx="226.2" cy="674.2" r="5.6" fill="#000"/>
<circle cx="226.2" cy="714" r="5.6" fill="#000"/>
<circle cx="237.5" cy="728.4" r="5.6" fill="#000"/>
<circle cx="215.4" cy="732.5" r="5.6" fill="#000"/>
<polygon points="289.3,680 299.9,680 294.6,670" fill="#000" stroke="#000" stroke-width="0.6" stroke-linejoin="round"/>
<polygon points="341,682 351.6,682 346.3,672" fill="#000" stroke="#000" stroke-width="0.6" stroke-linejoin="round"/>
<polygon points="315.1,686.3 325.7,686.3 320.4,676.3" fill="#000" stroke="#000" stroke-width="0.6" stroke-linejoin="round"/>
<polygon points="315.1,714.6 325.7,714.6 320.4,704.6" fill="#000" stroke="#000" stroke-width="0.6" stroke-linejoin="round"/>
</g>
<g id="panel-c2">
<line x1="675.5" y1="701.6" x2="675.5" y2="714.2" stroke="#000" stroke-width="2.8" />
<line x1="660.2" y1="701.6" x2="690.8" y2="701.6" stroke="#000" stroke-width="2.8" stroke-linecap="round"/>
<rect x="645.8" y="713.6" width="59.1" height="219" fill="#7d7f83" stroke="#000" stroke-width="2.8"/>
<line x1="769.8" y1="669.1" x2="769.8" y2="685.4" stroke="#000" stroke-width="2.8" />
<line x1="754.2" y1="669.1" x2="785.1" y2="669.1" stroke="#000" stroke-width="2.8" stroke-linecap="round"/>
<rect x="739.8" y="684.8" width="60.1" height="247.8" fill="#d39b30" stroke="#000" stroke-width="2.8"/>
<line x1="613.4" y1="600.6" x2="613.4" y2="934" stroke="#000" stroke-width="2.8" />
<line x1="591.8" y1="932.6" x2="833" y2="932.6" stroke="#000" stroke-width="2.8" />
<line x1="591.8" y1="932.6" x2="613.4" y2="932.6" stroke="#000" stroke-width="2.8" />
<text x="589.9" y="942.2" text-anchor="end" font-size="27" >0</text>
<line x1="591.8" y1="822.4" x2="613.4" y2="822.4" stroke="#000" stroke-width="2.8" />
<text x="589.9" y="832" text-anchor="end" font-size="27" >0.5</text>
<line x1="591.8" y1="712.2" x2="613.4" y2="712.2" stroke="#000" stroke-width="2.8" />
<text x="589.9" y="721.8" text-anchor="end" font-size="27" >1.0</text>
<line x1="591.8" y1="602" x2="613.4" y2="602" stroke="#000" stroke-width="2.8" />
<text x="589.9" y="611.6" text-anchor="end" font-size="27" >1.5</text>
<line x1="675.5" y1="932.6" x2="675.5" y2="954.8" stroke="#000" stroke-width="2.8" />
<text x="675.5" y="978.5" text-anchor="middle" font-size="27" >Ctrl</text>
<line x1="769.8" y1="932.6" x2="769.8" y2="954.8" stroke="#000" stroke-width="2.8" />
<text x="769.8" y="978.5" text-anchor="middle" font-size="27" >PGI<tspan font-size="18.5" dy="7.7">2</tspan></text>
<line x1="646.1" y1="625" x2="798.1" y2="625" stroke="#000" stroke-width="2.8" stroke-linecap="round"/>
<text x="721.5" y="609.4" text-anchor="middle" font-size="26.8" >NS</text>
<text transform="translate(536.3 777) rotate(-90)" text-anchor="middle" font-size="25.2" ><tspan font-style="italic">Hif1a/Rps18</tspan> (relative to ctrl)</text>
<circle cx="664.6" cy="695.2" r="5.6" fill="#000"/>
<circle cx="686.6" cy="695.2" r="5.6" fill="#000"/>
<circle cx="675.5" cy="719" r="5.6" fill="#000"/>
<circle cx="675.5" cy="738.3" r="5.6" fill="#000"/>
<polygon points="764.5,649.7 775.1,649.7 769.8,639.7" fill="#000" stroke="#000" stroke-width="0.6" stroke-linejoin="round"/>
<polygon points="764.5,688.4 775.1,688.4 769.8,678.4" fill="#000" stroke="#000" stroke-width="0.6" stroke-linejoin="round"/>
<polygon points="764.5,701 775.1,701 769.8,691" fill="#000" stroke="#000" stroke-width="0.6" stroke-linejoin="round"/>
<polygon points="764.5,715.7 775.1,715.7 769.8,705.7" fill="#000" stroke="#000" stroke-width="0.6" stroke-linejoin="round"/>
</g>
<g id="panel-d2">
<line x1="1603" y1="747.5" x2="1603" y2="769.1" stroke="#000" stroke-width="2.8" />
<line x1="1587.4" y1="747.5" x2="1618" y2="747.5" stroke="#000" stroke-width="2.8" stroke-linecap="round"/>
<rect x="1573.2" y="768.5" width="59.4" height="164.1" fill="#7d7f83" stroke="#000" stroke-width="2.8"/>
<line x1="1696.9" y1="721.3" x2="1696.9" y2="752.5" stroke="#000" stroke-width="2.8" />
<line x1="1681.5" y1="721.3" x2="1712.5" y2="721.3" stroke="#000" stroke-width="2.8" stroke-linecap="round"/>
<rect x="1667.1" y="751.9" width="59.4" height="180.7" fill="#d39b30" stroke="#000" stroke-width="2.8"/>
<line x1="1540.2" y1="600.2" x2="1540.2" y2="934" stroke="#000" stroke-width="2.8" />
<line x1="1518.7" y1="932.6" x2="1760.3" y2="932.6" stroke="#000" stroke-width="2.8" />
<line x1="1518.7" y1="932.6" x2="1540.2" y2="932.6" stroke="#000" stroke-width="2.8" />
<text x="1516.7" y="942.2" text-anchor="end" font-size="27" >0</text>
<line x1="1518.7" y1="849.85" x2="1540.2" y2="849.85" stroke="#000" stroke-width="2.8" />
<text x="1516.7" y="859.45" text-anchor="end" font-size="27" >0.5</text>
<line x1="1518.7" y1="767.1" x2="1540.2" y2="767.1" stroke="#000" stroke-width="2.8" />
<text x="1516.7" y="776.7" text-anchor="end" font-size="27" >1.0</text>
<line x1="1518.7" y1="684.35" x2="1540.2" y2="684.35" stroke="#000" stroke-width="2.8" />
<text x="1516.7" y="693.95" text-anchor="end" font-size="27" >1.5</text>
<line x1="1518.7" y1="601.6" x2="1540.2" y2="601.6" stroke="#000" stroke-width="2.8" />
<text x="1516.7" y="611.2" text-anchor="end" font-size="27" >2.0</text>
<line x1="1603" y1="932.6" x2="1603" y2="954.8" stroke="#000" stroke-width="2.8" />
<text x="1603" y="978.5" text-anchor="middle" font-size="27" >Ctrl</text>
<line x1="1696.9" y1="932.6" x2="1696.9" y2="954.8" stroke="#000" stroke-width="2.8" />
<text x="1696.9" y="978.5" text-anchor="middle" font-size="27" >U-46619</text>
<line x1="1573.8" y1="637.9" x2="1725.4" y2="637.9" stroke="#000" stroke-width="2.8" stroke-linecap="round"/>
<text x="1648.6" y="623" text-anchor="middle" font-size="26.8" >NS</text>
<text transform="translate(1459 775) rotate(-90)" text-anchor="middle" font-size="25.2" >HIF-1α/GAPDH (relative to ctrl)</text>
<circle cx="1602.8" cy="692.5" r="5.6" fill="#000"/>
<circle cx="1602.8" cy="730.7" r="5.6" fill="#000"/>
<circle cx="1613.8" cy="772" r="5.6" fill="#000"/>
<circle cx="1591.8" cy="779" r="5.6" fill="#000"/>
<circle cx="1591.8" cy="816.7" r="5.6" fill="#000"/>
<circle cx="1613.8" cy="813" r="5.6" fill="#000"/>
<polygon points="1691.6,667.6 1702.2,667.6 1696.9,657.6" fill="#000" stroke="#000" stroke-width="0.6" stroke-linejoin="round"/>
<polygon points="1691.6,691.9 1702.2,691.9 1696.9,681.9" fill="#000" stroke="#000" stroke-width="0.6" stroke-linejoin="round"/>
<polygon points="1691.6,738.5 1702.2,738.5 1696.9,728.5" fill="#000" stroke="#000" stroke-width="0.6" stroke-linejoin="round"/>
<polygon points="1691.6,761.2 1702.2,761.2 1696.9,751.2" fill="#000" stroke="#000" stroke-width="0.6" stroke-linejoin="round"/>
<polygon points="1680.6,840 1691.2,840 1685.9,830" fill="#000" stroke="#000" stroke-width="0.6" stroke-linejoin="round"/>
<polygon points="1702.5,833.7 1713.1,833.7 1707.8,823.7" fill="#000" stroke="#000" stroke-width="0.6" stroke-linejoin="round"/>
</g>
<g id="panel-d1">
<text x="1096.6" y="689.3" text-anchor="start" font-size="26.6" >Ctrl</text>
<text x="1164.8" y="689.3" text-anchor="start" font-size="26.6" >U-46619</text>
<text x="1286.6" y="689.3" text-anchor="start" font-size="26.6" >(kDa)</text>
<text x="1035.6" y="754.4" text-anchor="end" font-size="26.6" >HIF-1α</text>
<text x="1035.2" y="857" text-anchor="end" font-size="26.6" >GAPDH</text>
<rect x="1059.5" y="704.0" width="217.3" height="86.8" fill="#e3e3e3"/>
<g clip-path="url(#c1)">
<rect x="1056" y="700" width="26" height="95" fill="#f0f0f0" filter="url(#b4)"/>
<rect x="1150" y="700" width="24" height="95" fill="#ebebeb" filter="url(#b4)"/>
<rect x="1255" y="745" width="24" height="50" fill="#ededed" filter="url(#b4)"/>
<rect x="1087" y="700" width="56" height="88" fill="#cbcbcb" filter="url(#b4)"/>
<rect x="1088" y="719" width="55" height="55" fill="url(#g1)" filter="url(#b4)"/>
<ellipse cx="1099" cy="757" rx="9" ry="7" fill="#3c3c3c" opacity="0.35" filter="url(#b4)"/>
<ellipse cx="1134" cy="755" rx="8" ry="9" fill="#3c3c3c" opacity="0.35" filter="url(#b4)"/>
<rect x="1178" y="704" width="74" height="84" fill="#dadada" filter="url(#b4)"/>
<rect x="1179" y="732" width="72" height="36" fill="#c4c4c4" filter="url(#b7)"/>
<ellipse cx="1192" cy="750" rx="12" ry="13" fill="#9e9e9e" opacity="0.8" filter="url(#b4)"/>
<ellipse cx="1241" cy="750" rx="9" ry="13" fill="#a8a8a8" opacity="0.8" filter="url(#b4)"/>
<ellipse cx="1216" cy="752" rx="14" ry="10" fill="#adadad" opacity="0.8" filter="url(#b4)"/>
<ellipse cx="1272" cy="733" rx="16.5" ry="7" fill="#000" opacity="0.6" filter="url(#b2)"/>
<ellipse cx="1272" cy="733.2" rx="15" ry="6.2" fill="#000" filter="url(#b1)"/>
</g>
<rect x="1059.5" y="704.0" width="217.3" height="86.8" fill="none" stroke="#111" stroke-width="1.9"/>
<rect x="1059.5" y="806.6" width="217.3" height="86.9" fill="url(#g3)"/>
<g clip-path="url(#c2)">
<rect x="1077" y="846.5" width="69" height="14.5" rx="7" fill="#000" opacity="0.55" filter="url(#b4)"/>
<rect x="1078" y="847.6" width="67.5" height="12.2" rx="6.1" fill="#000" filter="url(#b2)"/>
<rect x="1081" y="848.8" width="62" height="9.8" rx="4.9" fill="#000" filter="url(#b1)"/>
<g transform="rotate(-2.2 1214 850.8)"><rect x="1172" y="844.5" width="84" height="12" rx="6" fill="#777" opacity="0.5" filter="url(#b4)"/><rect x="1174" y="846.4" width="81" height="8.6" rx="4.3" fill="url(#g2)" filter="url(#b2)"/><rect x="1180" y="848.2" width="72" height="5" rx="2.5" fill="url(#g2)" opacity="0.8" filter="url(#b1)"/></g>
</g>
<rect x="1059.5" y="806.6" width="217.3" height="86.9" fill="none" stroke="#111" stroke-width="1.9"/>
<line x1="1277.5" y1="781.8" x2="1299.6" y2="781.8" stroke="#000" stroke-width="2.4" />
<text x="1308.8" y="789.1" text-anchor="start" font-size="26" >100</text>
<line x1="1277.5" y1="830.9" x2="1299.6" y2="830.9" stroke="#000" stroke-width="2.4" />
<text x="1308.4" y="838.3" text-anchor="start" font-size="26.6" >35</text>
</g>
</svg>
</body>
</html>
